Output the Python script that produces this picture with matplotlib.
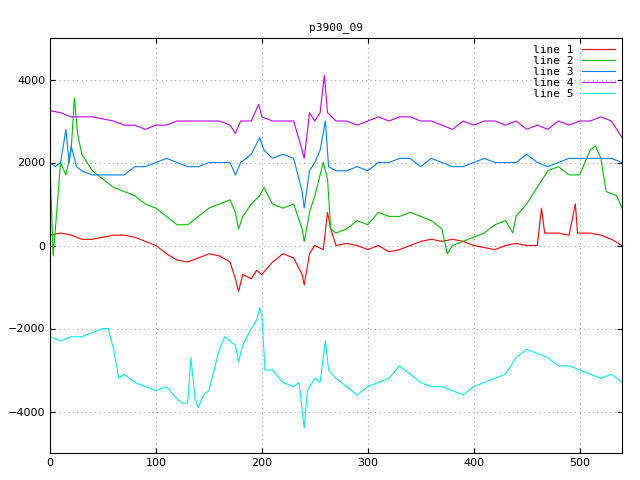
import matplotlib
matplotlib.use("Agg")
import matplotlib.pyplot as plt

x1 = [0,10,20,30,40,50,60,70,80,90,100,110,120,130,140,150,160,170,175,178,182,190,195,200,210,220,230,238,240,245,250,258,262,265,270,280,290,300,310,320,330,340,350,360,370,380,390,400,410,420,430,440,450,460,464,467,480,490,496,498,510,520,530,540]
y1 = [250,300,250,150,150,200,250,250,200,100,0,-200,-350,-400,-300,-200,-250,-400,-800,-1100,-700,-800,-600,-700,-400,-200,-300,-700,-950,-200,0,-100,800,400,0,50,0,-100,0,-150,-100,0,100,150,100,150,100,0,-50,-100,0,50,0,0,900,300,300,250,1000,300,300,250,150,0]
x2 = [0,3,6,10,15,20,23,26,30,40,50,60,70,80,90,100,110,120,130,140,150,160,170,175,178,182,190,198,202,210,220,230,238,240,245,250,258,262,265,270,280,290,300,310,320,330,340,350,360,370,375,380,390,400,410,420,430,437,440,450,460,470,480,490,500,510,515,520,525,535,540]
y2 = [1900,-250,700,2000,1700,2300,3550,2700,2200,1800,1600,1400,1300,1200,1000,900,700,500,500,700,900,1000,1100,800,400,700,1000,1200,1400,1000,900,1000,400,100,800,1200,2000,1600,400,300,400,600,500,800,700,700,800,700,600,400,-200,0,100,200,300,500,600,300,700,1000,1400,1800,1900,1700,1700,2300,2400,2100,1300,1200,900]
x3 = [0,5,10,15,18,20,25,30,40,50,60,70,80,90,100,110,120,130,140,150,160,170,175,180,190,198,202,210,220,230,238,240,245,250,255,260,263,270,280,290,300,310,320,330,340,350,360,370,380,390,400,410,420,430,440,450,460,470,480,490,500,510,520,530,540]
y3 = [2000,1900,2000,2800,2000,2400,1900,1800,1700,1700,1700,1700,1900,1900,2000,2100,2000,1900,1900,2000,2000,2000,1700,2000,2200,2600,2300,2100,2200,2100,1300,900,1800,2000,2300,3000,1900,1800,1800,1900,1800,2000,2000,2100,2100,1900,2100,2000,1900,1900,2000,2100,2000,2000,2000,2200,2000,1900,2000,2100,2100,2100,2100,2100,2000]
x4 = [0,10,20,30,40,50,60,70,80,90,100,110,120,130,140,150,160,170,175,180,190,197,200,210,220,230,238,240,245,250,255,259,262,270,280,290,300,310,320,330,340,350,360,370,380,390,400,410,420,430,440,450,460,470,480,490,500,510,520,530,540]
y4 = [3250,3200,3100,3100,3100,3050,3000,2900,2900,2800,2900,2900,3000,3000,3000,3000,3000,2900,2700,3000,3000,3400,3100,3000,3000,3000,2300,2100,3200,3000,3200,4100,3200,3000,3000,2900,3000,3100,3000,3100,3100,3000,3000,2900,2800,3000,2900,3000,3000,2900,3000,2800,2900,2800,3000,2900,3000,3000,3100,3000,2600]
x5 = [0,10,20,30,40,50,55,60,65,70,80,90,100,110,120,125,130,133,137,140,145,150,155,160,165,170,175,178,182,190,195,198,200,203,210,220,230,235,240,243,250,255,260,263,270,280,290,300,310,320,330,340,350,360,370,380,390,400,410,420,430,440,450,460,470,480,490,500,510,520,530,540]
y5 = [-2200,-2300,-2200,-2200,-2100,-2000,-2000,-2500,-3200,-3100,-3300,-3400,-3500,-3400,-3700,-3800,-3800,-2700,-3700,-3900,-3600,-3500,-3000,-2500,-2200,-2300,-2400,-2800,-2400,-2000,-1800,-1500,-1700,-3000,-3000,-3300,-3400,-3300,-4400,-3500,-3200,-3300,-2300,-3000,-3200,-3400,-3600,-3400,-3300,-3200,-2900,-3100,-3300,-3400,-3400,-3500,-3600,-3400,-3300,-3200,-3100,-2700,-2500,-2600,-2700,-2900,-2900,-3000,-3100,-3200,-3100,-3300]

series = [("line 1", x1, y1, "#ff0000"), ("line 2", x2, y2, "#00c000"),
          ("line 3", x3, y3, "#0080ff"), ("line 4", x4, y4, "#c000ff"),
          ("line 5", x5, y5, "#00eeee")]

fig = plt.figure(figsize=(6.4, 4.8), dpi=100)
ax = fig.add_axes([50/640, 1-453/480, 572/640, 415/480])
for name, xs, ys, c in series:
    ax.plot(xs, ys, color=c, lw=0.8, label=name)
ax.set_xlim(0, 540)
ax.set_ylim(-5000, 5000)
ax.set_xticks(range(0, 501, 100))
ax.set_yticks(range(-4000, 4001, 2000))
ax.grid(True, color="#a0a0a0", linestyle=(0, (1, 3)), lw=0.8)
ax.tick_params(direction="in", labelsize=8, top=True, right=True)
ax.set_title("p3900_09", fontsize=8, family="DejaVu Sans Mono")
leg = ax.legend(loc="upper right", frameon=False, markerfirst=False,
                handlelength=3, labelspacing=0.1, borderaxespad=0.2,
                prop={"family": "DejaVu Sans Mono", "size": 8})
fig.savefig("out.png")
